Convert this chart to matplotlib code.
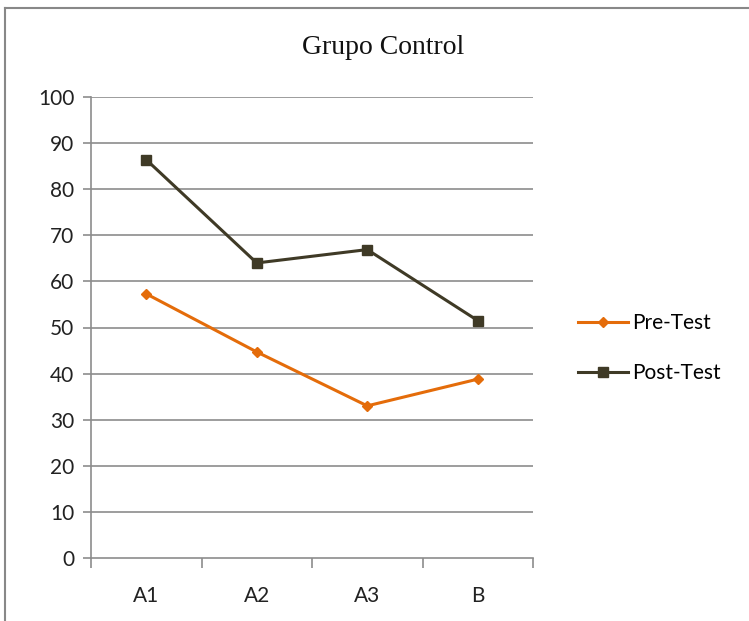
import numpy as np
import matplotlib
matplotlib.use("Agg")
import matplotlib.pyplot as plt
from matplotlib.lines import Line2D

# data for the control group
categorias = ["A1", "A2", "A3", "B"]
pre_test = [57.3, 44.7, 33.0, 38.8]
post_test = [86.4, 64.0, 66.9, 51.5]
y_ticks = [0, 10, 20, 30, 40, 50, 60, 70, 80, 90, 100]

naranja = "#E46C0A"
oliva = "#3F3A26"
gris = "#8C8C8C"

fig = plt.figure(figsize=(7.49, 6.21), dpi=100)
ax = fig.add_axes([91 / 749, 1 - 558 / 621, 442 / 749, 461 / 621])

x = np.arange(len(categorias))
ax.plot(x, pre_test, color=naranja, lw=2.2, marker="D", ms=5, label="Pre-Test")
ax.plot(x, post_test, color=oliva, lw=2.2, marker="s", ms=7, label="Post-Test")

ax.set_xlim(-0.5, len(categorias) - 0.5)
ax.set_ylim(0, 100)
ax.set_yticks(y_ticks)
ax.set_yticklabels([str(v) for v in y_ticks])

# horizontal gridlines
for v in y_ticks[1:]:
    ax.axhline(v, color=gris, lw=1.2, zorder=0)

# category labels sit between boundary tick marks
ax.set_xticks(x)
ax.set_xticklabels(categorias)
ax.tick_params(axis="x", length=0, pad=20)
ax.set_xticks(np.arange(-0.5, len(categorias)), minor=True)
ax.tick_params(axis="x", which="minor", length=7, color=gris, width=1.2, direction="out")
ax.tick_params(axis="y", length=6, color=gris, width=1.2, pad=6)
ax.tick_params(labelsize=15, labelcolor="#222222")
for lbl in ax.get_xticklabels() + ax.get_yticklabels():
    lbl.set_family(["Lato", "DejaVu Sans"])

for s in ["top", "right"]:
    ax.spines[s].set_visible(False)
for s in ["left", "bottom"]:
    ax.spines[s].set_color(gris)
    ax.spines[s].set_linewidth(1.2)

fig.text(383 / 749, 1 - 47 / 621, "Grupo Control", ha="center", va="center",
         fontsize=20, family="Liberation Serif", color="#111111")

ax.legend(loc="center left", bbox_to_anchor=(1.06, 0.455), frameon=False,
          handlelength=2.4, handletextpad=0.2, labelspacing=1.45,
          prop={"family": "Lato", "size": 15})

# outer chart frame
fig.add_artist(Line2D([5 / 749, 1], [1 - 8 / 621, 1 - 8 / 621], color="#888888", lw=1.5))
fig.add_artist(Line2D([5 / 749, 5 / 749], [0, 1 - 8 / 621], color="#888888", lw=1.5))

fig.savefig("out.png", dpi=100)
